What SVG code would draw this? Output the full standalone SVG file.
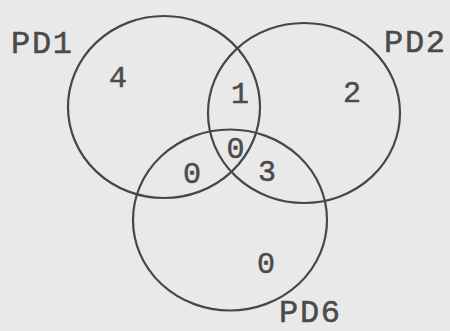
<svg xmlns="http://www.w3.org/2000/svg" width="450" height="331" viewBox="0 0 450 331">
  <style>
    .set { fill: none; stroke: #474747; stroke-width: 2.2; }
    .lbl { font-family: "Liberation Mono", "DejaVu Sans Mono", monospace; font-size: 32px; fill: #4a4a4a; stroke: #4a4a4a; stroke-width: 0.5; }
    .num { font-family: "Liberation Mono", "DejaVu Sans Mono", monospace; font-size: 30px; fill: #4a4a4a; stroke: #4a4a4a; stroke-width: 0.5; text-anchor: middle; }
  </style>
  <rect x="0" y="0" width="450" height="331" fill="#e9e9e9"/>
  <g id="PD1">
    <ellipse class="set" cx="164" cy="107" rx="96" ry="91"/>
    <text class="lbl" x="11" y="53" textLength="61" lengthAdjust="spacing">PD1</text>
  </g>
  <g id="PD2">
    <ellipse class="set" cx="304" cy="113" rx="96" ry="90"/>
    <text class="lbl" x="384" y="52" textLength="61" lengthAdjust="spacing">PD2</text>
  </g>
  <g id="PD6">
    <ellipse class="set" cx="230" cy="220" rx="97" ry="90.5"/>
    <text class="lbl" x="279" y="322" textLength="61" lengthAdjust="spacing">PD6</text>
  </g>
  <g id="regions">
    <text class="num" x="118" y="87">4</text>
    <text class="num" x="352" y="102">2</text>
    <text class="num" x="240" y="103">1</text>
    <text class="num" x="235.5" y="158">0</text>
    <text class="num" x="192" y="183">0</text>
    <text class="num" x="267" y="181">3</text>
    <text class="num" x="266" y="273">0</text>
  </g>
</svg>
